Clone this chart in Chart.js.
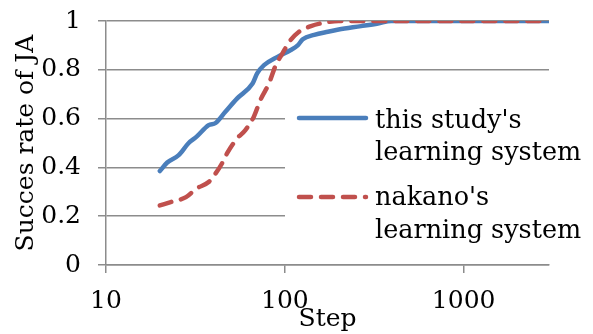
<!DOCTYPE html>
<html><head><meta charset="utf-8">
<script src="https://cdn.jsdelivr.net/npm/chart.js@4/dist/chart.umd.min.js"></script>
<style>html,body{margin:0;padding:0;background:#fff}canvas{display:block}</style>
</head><body>
<canvas id="c" width="593" height="334"></canvas>
<script>
const xTickValues = [10, 100, 1000];
const yTickLabels = ["0", "0.2", "0.4", "0.6", "0.8", "1"];
const seriesLabels = [["this study's", "learning system"], ["nakano's", "learning system"]];
const studySteps = [20, 22, 25.5, 29, 32, 37.5, 41, 46.5, 54, 66, 70, 76.5, 91, 108, 118, 126, 146, 174, 200, 267, 332, 394, 3000];
const studyValues = [0.385, 0.42, 0.45, 0.5, 0.525, 0.573, 0.582, 0.628, 0.682, 0.744, 0.785, 0.819, 0.853, 0.881, 0.90, 0.925, 0.943, 0.956, 0.965, 0.979, 0.99, 1.0, 1.0];
const nakanoSteps = [20, 23, 28, 32, 37.5, 41, 44.5, 47.5, 54, 60, 67, 73, 81.5, 89, 97, 106, 120, 140, 166, 200, 3000];
const nakanoValues = [0.244, 0.258, 0.278, 0.313, 0.34, 0.375, 0.416, 0.457, 0.518, 0.552, 0.607, 0.676, 0.744, 0.819, 0.867, 0.915, 0.956, 0.979, 0.993, 1.0, 1.0];

const FONT = "'DejaVu Serif', serif";
const GRID = '#8c8c8c';

const legendPlugin = {
  id: 'boxLegend',
  beforeDatasetsDraw(chart) {
    const ctx = chart.ctx;
    ctx.save();
    ctx.fillStyle = '#fff';
    ctx.fillRect(285, 80, 308, 178);
    ctx.restore();
  },
  afterDraw(chart) {
    const ctx = chart.ctx;
    const ys = [118, 197];
    const base = [[128, 160], [205, 238]];
    chart.data.datasets.forEach((ds, i) => {
      ctx.save();
      ctx.strokeStyle = ds.borderColor;
      ctx.lineWidth = ds.borderWidth;
      ctx.lineCap = 'round';
      ctx.setLineDash(ds.borderDash || []);
      ctx.beginPath();
      ctx.moveTo(299, ys[i]);
      ctx.lineTo(366, ys[i]);
      ctx.stroke();
      ctx.setLineDash([]);
      ctx.fillStyle = '#000';
      ctx.font = '25.5px ' + FONT;
      ctx.textBaseline = 'alphabetic';
      ctx.textAlign = 'left';
      ds.label.forEach((t, j) => ctx.fillText(t, 375, base[i][j]));
      ctx.restore();
    });
  }
};

new Chart(document.getElementById('c'), {
  type: 'line',
  data: {
    datasets: [
      {
        label: seriesLabels[0],
        data: studySteps.map((s, i) => ({x: s, y: studyValues[i]})),
        borderColor: '#4a7ebb', backgroundColor: '#4a7ebb',
        borderWidth: 4.5, pointRadius: 0, borderCapStyle: 'round', borderJoinStyle: 'round',
        cubicInterpolationMode: 'monotone', order: 2
      },
      {
        label: seriesLabels[1],
        data: nakanoSteps.map((s, i) => ({x: s, y: nakanoValues[i]})),
        borderColor: '#c0504d', backgroundColor: '#c0504d',
        borderWidth: 4.5, pointRadius: 0, borderCapStyle: 'round', borderJoinStyle: 'round',
        borderDash: [12, 10],
        cubicInterpolationMode: 'monotone', order: 1
      }
    ]
  },
  options: {
    responsive: false,
    animation: false,
    events: [],
    layout: {padding: {left: 0, right: 44, top: 21, bottom: 0}},
    plugins: {legend: {display: false}, tooltip: {enabled: false}},
    scales: {
      x: {
        type: 'logarithmic', min: 10, max: 3000,
        afterBuildTicks(s) { s.ticks = xTickValues.map(v => ({value: v})); },
        afterFit(s) { s.height = 69; s.paddingLeft = 0; s.paddingRight = 0; },
        ticks: {callback: v => String(v), color: '#000', font: {family: FONT, size: 25}, padding: 13, maxRotation: 0, autoSkip: false},
        grid: {drawOnChartArea: false, drawTicks: true, tickLength: 8, color: GRID, lineWidth: 1.5},
        border: {display: true, color: GRID, width: 1.5},
        title: {display: true, text: 'Step', color: '#000', font: {family: FONT, size: 25}, padding: {top: 0, bottom: 0}}
      },
      y: {
        min: 0, max: 1,
        afterBuildTicks(s) { s.ticks = yTickLabels.map(v => ({value: parseFloat(v)})); },
        afterFit(s) { s.width = 106; s.paddingTop = 0; s.paddingBottom = 0; },
        ticks: {callback: (v, i) => yTickLabels[i], color: '#000', font: {family: FONT, size: 25}, padding: 17},
        grid: {drawTicks: true, tickLength: 8, color: GRID, lineWidth: 1.5},
        border: {display: true, color: GRID, width: 1.5},
        title: {display: true, text: 'Succes rate of JA', color: '#000', font: {family: FONT, size: 25}, padding: {top: 11, bottom: 0}}
      }
    }
  },
  plugins: [legendPlugin]
});
</script>
</body></html>
